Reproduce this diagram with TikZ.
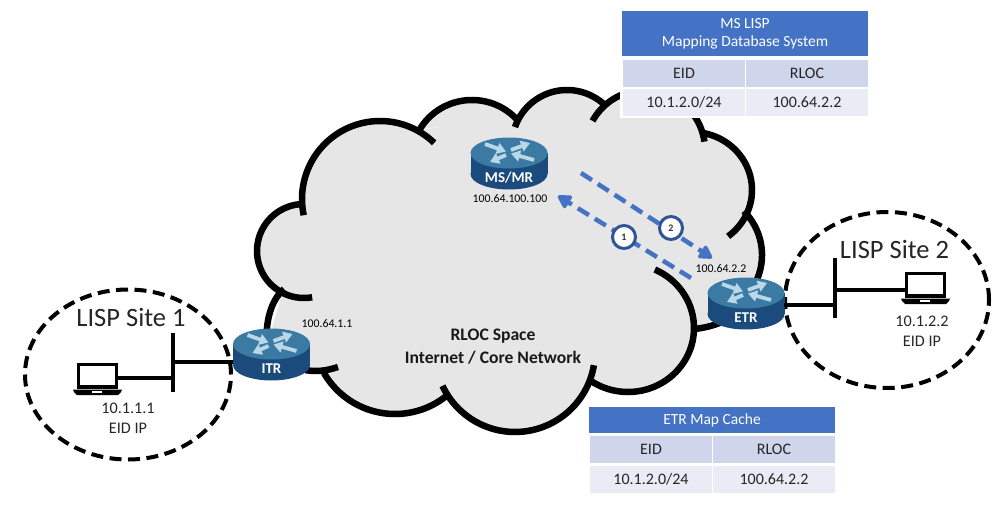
\documentclass[tikz,border=0pt]{standalone}
\usepackage{fontspec}
\setmainfont{Carlito}
\usetikzlibrary{arrows.meta,shapes.geometric}
\definecolor{cloudgray}{HTML}{E6E6E6}
\definecolor{rtop}{HTML}{3B7BA3}
\definecolor{rside}{HTML}{1A4B7C}
\definecolor{rarrow}{HTML}{B9D7E6}
\definecolor{hdr}{HTML}{4472C4}
\definecolor{rowa}{HTML}{CFD5EA}
\definecolor{rowb}{HTML}{E9EBF5}
\definecolor{flow}{HTML}{4472C4}
\definecolor{ring}{HTML}{2F5597}
\newcommand{\fs}[1]{\fontsize{#1}{#1}\selectfont}
\tikzset{
  cloudline/.style={line width=6.5pt,black,line cap=butt},
  site/.style={draw=black,line width=4pt,dash pattern=on 12pt off 6.5pt,ellipse,inner sep=0pt,outer sep=0pt},
  wire/.style={line width=4.5pt,black},
  flowarrow/.style={line width=4.5pt,flow,dash pattern=on 13pt off 7pt,-{Triangle[length=15pt,width=16pt,round=false]}},
  step badge/.style={circle,draw=ring,line width=3pt,fill=white,minimum size=23pt,inner sep=0pt,font=\fs{10}\bfseries,text=black!80},
  small/.style={font=\fs{11.8},text=black,inner sep=0pt},
  site title/.style={font=\fs{26.5},text=black!85,inner sep=0pt},
  site text/.style={font=\fs{16.2},text=black!85,inner sep=0pt},
  core/.style={font=\fs{17.6}\bfseries,text=black!90,inner sep=0pt},
  head/.style={fill=hdr,text=white,inner sep=0pt,font=\fs{15.5},align=center,minimum width=246pt},
  cella/.style={fill=rowa,text=black!85,inner sep=0pt,font=\fs{16},minimum width=122pt,minimum height=27pt},
  cellb/.style={fill=rowb,text=black!85,inner sep=0pt,font=\fs{16},minimum width=122pt,minimum height=27pt},
  rarr/.style={rarrow,line width=3.8pt,-{Triangle[length=9pt,width=11pt]}}
}
% one cloud lobe: cx cy rx ry from to
\newcommand{\lobepath}[6]{plot[domain=#5:#6,samples=50,variable=\t] ({#1+#3*cos(\t)},{#2+#4*sin(\t)})}
% router: #1 name, #2 x, #3 y (centre of top face), #4 label
\newcommand{\router}[4]{%
  \begin{scope}[shift={(#2,#3)}]
    \fill[rside] (0,21) ellipse [x radius=38.5,y radius=15.5];
    \fill[rside] (-38.5,0) rectangle (38.5,21);
    \fill[rtop] (0,0) ellipse [x radius=38.5,y radius=15.5];
    \draw[rarr] (-24,-9) -- (-3,-1.5);
    \draw[rarr] (25,7) -- (2,0.5);
    \draw[rarr] (2,-3) -- (21,-10);
    \draw[rarr] (-3,2) -- (-19,9);
    \node[font=\fs{15}\bfseries,text=white,inner sep=0pt,minimum width=77pt,minimum height=15pt] (#1) at (0,25) {#4};
  \end{scope}}
% laptop: #1 x, #2 y of the top-left of the screen
\newcommand{\laptop}[2]{%
  \begin{scope}[shift={(#1,#2)}]
    \draw[black,line width=3.2pt] (1.5,1.5) rectangle (39.5,24);
    \fill[black] (-4,26.5) -- (45,26.5) -- (44,29) -- (41,32) -- (0,32) -- (-3,29) -- cycle;
    \fill[white] (15,27.5) rectangle (25,29.5);
  \end{scope}}
\begin{document}
\begin{tikzpicture}[x=1pt,y=-1pt]
\useasboundingbox (0,0) rectangle (1000,508);
\fill[white] (0,0) rectangle (1000,508);

% cloud fill
\begin{scope}[cloudgray]
\fill \lobepath{304}{251}{47}{47}{270}{80} -- cycle;
\fill \lobepath{380}{199}{78}{78}{168}{314} -- cycle;
\fill \lobepath{472}{158}{60}{58}{210}{319} -- cycle;
\fill \lobepath{567}{145}{55}{55}{199}{316} -- cycle;
\fill \lobepath{645}{150}{60}{60}{209}{352} -- cycle;
\fill \lobepath{692}{190}{60}{58}{281}{413} -- cycle;
\fill \lobepath{700}{255}{62}{62}{315}{387} -- cycle;
\fill \lobepath{628}{328}{66}{64}{-66}{125} -- cycle;
\fill \lobepath{515}{352}{80}{80}{155}{9.5} -- cycle;
\fill \lobepath{395}{332}{82}{82}{150}{52} -- cycle;
\fill (303,205) -- (420,130) -- (517,117) -- (607,107) -- (703,135) -- (745,212) -- (757,280)
  -- (735,310) -- (694,329) -- (592,380) -- (445,398) -- (323,373) -- (280,360) -- (267,345) -- (283,290) -- cycle;
\end{scope}

% cloud outline
\begin{scope}[cloudline]
\draw \lobepath{304}{251}{47}{47}{268}{80};
\draw \lobepath{380}{199}{78}{78}{168}{314};
\draw \lobepath{472}{158}{60}{58}{210}{319};
\draw \lobepath{567}{145}{55}{55}{199}{316};
\draw \lobepath{645}{150}{60}{60}{209}{352};
\draw \lobepath{692}{190}{60}{58}{281}{413};
\draw \lobepath{700}{255}{62}{62}{315}{387};
\draw \lobepath{628}{328}{66}{64}{-66}{125};
\draw \lobepath{515}{352}{80}{80}{155}{9.5};
\draw \lobepath{395}{332}{82}{82}{150}{52};
\draw (338,367) .. controls (326,371) and (316,372) .. (305,370);
\draw (694,329) .. controls (704,328) and (712,326) .. (722,322);
\draw (284,289) .. controls (271,300) and (265,322) .. (267,345);
\end{scope}

% sites
\node[site,minimum width=206pt,minimum height=170pt] (siteone) at (128,374.5) {};
\node[site,minimum width=204pt,minimum height=176pt] (sitetwo) at (887,300) {};

% routers
\router{itr}{271.5}{344}{ITR}
\router{etr}{746}{293}{ETR}
\router{msmr}{509}{153}{MS/MR}

% LANs
\coordinate (baronetop) at (173,333);
\coordinate (baronebot) at (173,392);
\coordinate (bartwotop) at (835,258);
\coordinate (bartwobot) at (835,318);
\coordinate (baronea) at (173,378);
\coordinate (baroneb) at (173,362);
\coordinate (bartwoa) at (835,290);
\coordinate (bartwob) at (835,305);
\coordinate (pcone) at (118,378);
\coordinate (pctwo) at (905,290);
\coordinate (itrport) at (233,362);
\coordinate (etrport) at (784,305);
\draw[wire] (baronetop) -- (baronebot);
\draw[wire] (bartwotop) -- (bartwobot);
\laptop{77}{363}
\laptop{905}{272}
\draw[wire] (pcone) -- (baronea);
\draw[wire] (bartwoa) -- (pctwo);
\draw[wire] (baroneb) -- (itrport);
\draw[wire] (etrport) -- (bartwob);

% flows
\coordinate (f1s) at (691,278);
\coordinate (f1e) at (558,196);
\coordinate (f2s) at (581,173);
\coordinate (f2e) at (712,258);
\draw[flowarrow] (f1s) -- (f1e);
\draw[flowarrow] (f2s) -- (f2e);
\node[step badge] (one) at (624,237) {1};
\node[step badge] (two) at (671,228) {2};

% labels
\node[small] (lmsmr) at (510,199) {100.64.100.100};
\node[small] (letr) at (721,269) {100.64.2.2};
\node[small] (litr) at (327,324) {100.64.1.1};
\node[core] (ca) at (493,336) {RLOC Space};
\node[core] (cb) at (493,358) {Internet / Core Network};
\node[site title] (sa) at (131,317) {LISP Site 1};
\node[site text] (sb) at (128,408) {10.1.1.1};
\node[site text] (sc) at (128,428) {EID IP};
\node[site title] (sd) at (894.5,249) {LISP Site 2};
\node[site text] (se) at (922,321) {10.1.2.2};
\node[site text] (sf) at (922,341) {EID IP};

% top table
\fill[white] (620,10) rectangle (870,118);
\node[head,minimum height=45pt] (ta) at (745,34) {MS LISP\\[3pt]Mapping Database System};
\node[cella] (tb) at (684,73.5) {EID};
\node[cella] (tc) at (807,73.5) {RLOC};
\node[cellb] (td) at (684,102.5) {10.1.2.0/24};
\node[cellb] (te) at (807,102.5) {100.64.2.2};

% bottom table
\fill[white] (587,405) rectangle (837,494);
\node[head,minimum height=26pt] (ua) at (712,420) {ETR Map Cache};
\node[cella] (ub) at (651,449.5) {EID};
\node[cella] (uc) at (774,449.5) {RLOC};
\node[cellb] (ud) at (651,479) {10.1.2.0/24};
\node[cellb] (ue) at (774,479) {100.64.2.2};
\end{tikzpicture}
\end{document}
